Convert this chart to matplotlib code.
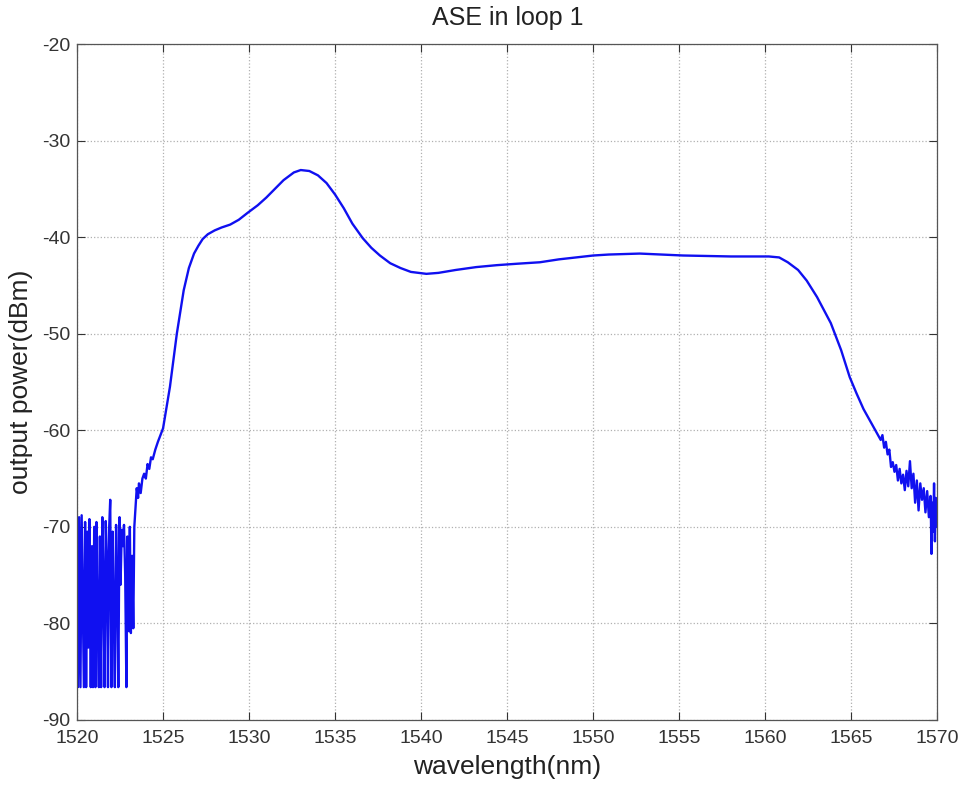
import numpy as np
import matplotlib
matplotlib.use("Agg")
import matplotlib.pyplot as plt

plt.rcParams['font.family'] = ['Liberation Sans', 'DejaVu Sans']
plt.rcParams['axes.unicode_minus'] = False

# ASE spectrum (wavelength in nm, power in dBm)
wavelength = [
    1520.0, 1520.05, 1520.12, 1520.2, 1520.27, 1520.33, 1520.4, 1520.47, 1520.53, 1520.6,
    1520.66, 1520.72, 1520.8, 1520.87, 1520.93, 1521.0, 1521.07, 1521.13, 1521.2, 1521.27,
    1521.33, 1521.4, 1521.47, 1521.53, 1521.6, 1521.67, 1521.73, 1521.8, 1521.87, 1521.93,
    1522.0, 1522.07, 1522.13, 1522.2, 1522.27, 1522.33, 1522.4, 1522.47, 1522.53, 1522.6,
    1522.67, 1522.73, 1522.8, 1522.87, 1522.93, 1523.0, 1523.07, 1523.13, 1523.2, 1523.27,
    1523.33, 1523.4, 1523.47, 1523.55, 1523.6, 1523.7, 1523.8, 1523.9, 1524.0, 1524.1,
    1524.2, 1524.3, 1524.4, 1524.55, 1524.7, 1524.85, 1525.0,
    1525.4, 1525.8, 1526.2, 1526.5, 1526.8, 1527.05, 1527.3, 1527.6, 1528.0, 1528.4,
    1528.9, 1529.4, 1529.9, 1530.5, 1531.0, 1531.5, 1532.0, 1532.6, 1533.0, 1533.5,
    1534.0, 1534.5, 1535.0, 1535.5, 1536.0, 1536.6, 1537.1, 1537.6, 1538.2, 1538.8,
    1539.4, 1540.3, 1541.0, 1542.0, 1543.2, 1544.4, 1545.6, 1546.9, 1548.0, 1549.0,
    1550.0, 1550.9, 1552.7, 1554.0, 1555.2, 1556.5, 1558.0, 1559.2, 1560.2, 1560.8,
    1561.3, 1561.9, 1562.4, 1563.0, 1563.8, 1564.4, 1564.9, 1565.3, 1565.7, 1566.2,
    1566.7,
    1566.8, 1566.9, 1567.0, 1567.1, 1567.2, 1567.3, 1567.4, 1567.5, 1567.6, 1567.7,
    1567.8, 1567.9, 1568.0, 1568.1, 1568.2, 1568.3, 1568.4, 1568.5, 1568.6, 1568.7,
    1568.8, 1568.9, 1569.0, 1569.1, 1569.2, 1569.3, 1569.4, 1569.5, 1569.6, 1569.65,
    1569.7, 1569.75, 1569.8, 1569.85, 1569.9, 1569.95, 1570.0,
]
power = [
    -75.5, -86.6, -69.0, -86.6, -68.8, -77.0, -86.6, -69.5, -86.6, -70.5,
    -82.5, -69.2, -86.6, -72.0, -86.6, -70.0, -86.6, -69.5, -79.0, -86.6,
    -71.0, -86.6, -69.0, -75.0, -86.6, -69.4, -73.0, -86.6, -70.0, -67.2,
    -86.6, -70.5, -78.5, -86.6, -69.8, -74.5, -86.6, -69.0, -76.0, -70.3,
    -72.0, -69.8, -75.0, -86.6, -71.0, -80.8, -70.0, -81.0, -73.0, -80.5,
    -70.0, -68.0, -66.0, -67.0, -65.5, -66.5, -65.0, -64.5, -65.0, -63.5,
    -64.0, -62.8, -63.0, -62.0, -61.2, -60.5, -59.8,
    -55.5, -50.0, -45.5, -43.2, -41.7, -40.9, -40.2, -39.7, -39.3, -39.0,
    -38.7, -38.2, -37.5, -36.7, -35.9, -35.0, -34.1, -33.3, -33.05, -33.15,
    -33.6, -34.4, -35.6, -37.0, -38.6, -40.1, -41.1, -41.9, -42.7, -43.2,
    -43.6, -43.8, -43.7, -43.4, -43.1, -42.9, -42.75, -42.6, -42.3, -42.1,
    -41.9, -41.8, -41.7, -41.8, -41.9, -41.95, -42.0, -42.0, -42.0, -42.1,
    -42.6, -43.4, -44.5, -46.2, -48.9, -51.7, -54.5, -56.2, -57.8, -59.4,
    -61.0,
    -60.5, -61.8, -61.2, -62.5, -62.0, -63.8, -63.3, -64.3, -63.6, -65.2,
    -64.0, -65.5, -64.6, -66.2, -64.2, -65.8, -63.2, -66.0, -64.5, -67.5,
    -65.2, -68.3, -65.5, -67.2, -66.0, -68.5, -66.3, -69.0, -66.8, -72.8,
    -67.5, -70.5, -65.5, -71.5, -67.0, -70.0, -68.0,
]

x_ticks = np.arange(1520, 1571, 5)
y_ticks = np.arange(-90, -19, 10)

fig = plt.figure(figsize=(9.65, 7.89), dpi=100)
ax = fig.add_axes([0.0798, 0.0875, 0.8917, 0.8567])

ax.plot(wavelength, power, color='#1010f0', linewidth=1.7)

ax.set_xlim(1520, 1570)
ax.set_ylim(-90, -20)
ax.set_xticks(x_ticks)
ax.set_yticks(y_ticks)
ax.grid(True, linestyle=':', color='#b0b0b0', linewidth=0.9)
ax.tick_params(direction='in', top=True, right=True, length=6,
               labelsize=14, colors='#333333')
ax.tick_params(axis='x', pad=7)
ax.tick_params(axis='y', pad=5)
for s in ax.spines.values():
    s.set_color('#555555')
    s.set_linewidth(0.9)

ax.set_title('ASE in loop 1', fontsize=18, color='#222222', pad=14)
ax.set_xlabel('wavelength(nm)', fontsize=19, color='#222222', labelpad=6)
ax.set_ylabel('output power(dBm)', fontsize=19, color='#222222', labelpad=6)

fig.savefig('out.png', dpi=100)
